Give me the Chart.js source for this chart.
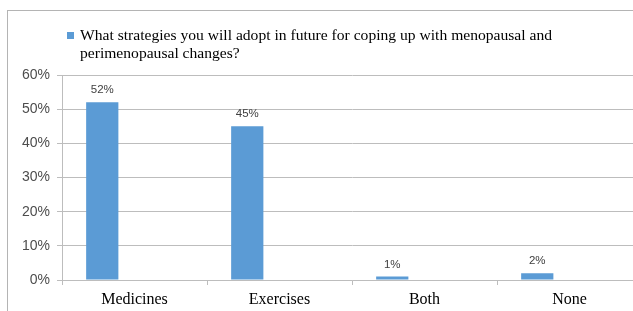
<!DOCTYPE html>
<html>
<head>
<meta charset="utf-8">
<script src="https://cdn.jsdelivr.net/npm/chart.js@4"></script>
<style>
  html, body { margin: 0; padding: 0; background: #fff; overflow: hidden; }
  body { width: 633px; height: 311px; position: relative; }
  .frame { position: absolute; left: 7px; top: 10px; width: 700px; height: 400px; border: 1px solid #b4b4b4; }
  .wrap { position: absolute; left: 0; top: 0; width: 660px; height: 311px; }
</style>
</head>
<body>
<div class="frame"></div>
<div class="wrap"><canvas id="strategyChart" width="660" height="311"></canvas></div>
<script>
const categories = ['Medicines', 'Exercises', 'Both', 'None'];
const percentages = [52, 45, 1, 2];
const seriesName = 'What strategies you will adopt in future for coping up with menopausal and perimenopausal changes?';
const yTicks = [0, 10, 20, 30, 40, 50, 60];

const barBlue = '#5b9bd5';
const gridGray = '#bdbdbd';

// legend is drawn by hand because the series name wraps onto two lines
const wrappedLegend = {
  id: 'wrappedLegend',
  afterDraw(chart) {
    const ctx = chart.ctx;
    ctx.save();
    ctx.font = '15.6px "Liberation Serif"';
    const words = seriesName.split(' ');
    const lines = [];
    let line = '';
    words.forEach((w) => {
      const test = line ? line + ' ' + w : w;
      if (ctx.measureText(test).width > 490 && line) {
        lines.push(line);
        line = w;
      } else {
        line = test;
      }
    });
    lines.push(line);
    ctx.fillStyle = barBlue;
    ctx.fillRect(67, 32, 7, 7);
    ctx.fillStyle = '#000';
    ctx.textAlign = 'left';
    ctx.textBaseline = 'alphabetic';
    lines.forEach((l, i) => ctx.fillText(l, 80, 40 + i * 18));
    ctx.restore();
  }
};

// value labels above each bar
const valueLabels = {
  id: 'valueLabels',
  afterDatasetsDraw(chart) {
    const ctx = chart.ctx;
    const meta = chart.getDatasetMeta(0);
    ctx.save();
    ctx.font = '11.5px "Liberation Sans"';
    ctx.fillStyle = '#404040';
    ctx.textAlign = 'center';
    ctx.textBaseline = 'alphabetic';
    meta.data.forEach((bar, i) => {
      ctx.fillText(percentages[i] + '%', bar.x, bar.y - 9);
    });
    ctx.restore();
  }
};

new Chart(document.getElementById('strategyChart'), {
  type: 'bar',
  data: {
    labels: categories,
    datasets: [
      { label: seriesName, data: percentages, backgroundColor: barBlue },
      // two empty series keep the Excel-style spacing of the original
      { label: '', data: categories.map(() => null) },
      { label: '', data: categories.map(() => null) }
    ]
  },
  options: {
    responsive: false,
    animation: false,
    events: [],
    categoryPercentage: 0.667,
    barPercentage: 1,
    layout: { padding: { top: 75, right: 18, left: 0, bottom: 0 } },
    plugins: {
      legend: { display: false },
      tooltip: { enabled: false }
    },
    scales: {
      x: {
        afterFit: (axis) => { axis.height = 31; },
        grid: { display: true, drawOnChartArea: false, tickLength: 5, color: gridGray, offset: true },
        border: { color: gridGray },
        ticks: { color: '#000', font: { family: 'Liberation Serif', size: 16 }, padding: 5 }
      },
      y: {
        min: 0,
        max: 60,
        afterFit: (axis) => { axis.width = 62; },
        afterBuildTicks: (axis) => { axis.ticks = yTicks.map((v) => ({ value: v })); },
        grid: { color: gridGray, tickLength: 5 },
        border: { color: gridGray },
        ticks: {
          color: '#4d4d4d',
          font: { family: 'Liberation Sans', size: 14 },
          padding: 7,
          callback: (v) => v + '%'
        }
      }
    }
  },
  plugins: [wrappedLegend, valueLabels]
});
</script>
</body>
</html>
